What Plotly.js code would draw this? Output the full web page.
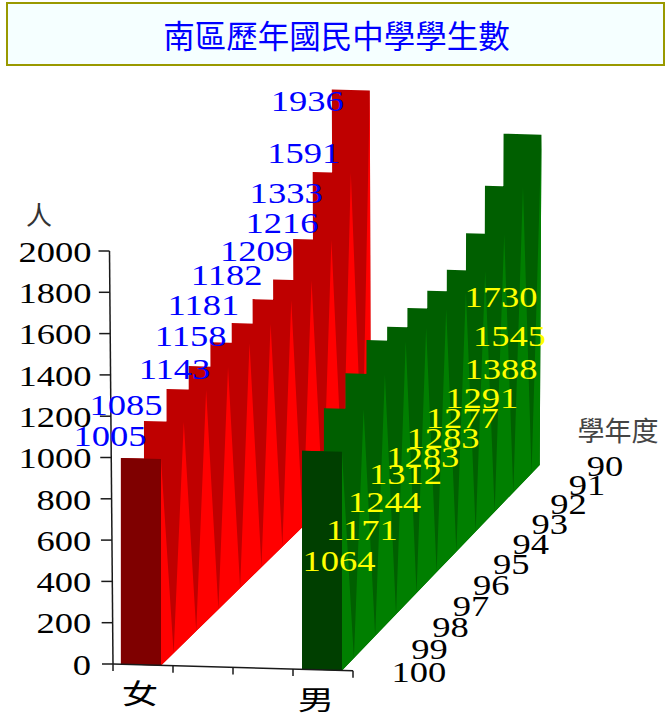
<!DOCTYPE html>
<html><head><meta charset="utf-8">
<script src="https://cdn.plot.ly/plotly-3.0.1.min.js"></script>
<style>html,body{margin:0;padding:0;background:#fff}#c{width:671px;height:716px}</style>
</head><body><div id="c"></div>
<script>
// ---- data (front row is year 100, back row is year 90) ----
const years = [100,99,98,97,96,95,94,93,92,91,90];
const female = [1005,1085,1143,1158,1181,1182,1209,1216,1333,1591,1936];
const male = [1064,1171,1244,1312,1283,1283,1277,1291,1388,1545,1730];
const valueTicks = [0,200,400,600,800,1000,1200,1400,1600,1800,2000];
const seriesNames = ['女','男'];
const chartTitle = '南區歷年國民中學學生數';
const valueAxisTitle = '人';
const depthAxisTitle = '學年度';

// ---- oblique projection of (u across, d depth, v value) to the hidden pixel-scaled axes ----
const depthT = d => d*1.1/(1+0.1*d);
function proj(u,d,v){
  const t = depthT(d);
  const lean = t*(-0.0009+0.002*u);
  return [113+240*u+(213-16*u)*t+lean*v,
          664.3+6.5*u-205.5*t-(0.2055-0.0146*t)*v];
}
const wallLean = 0.00175, wallScale = 0.2065;
const wallPt = v => [113-wallLean*v, 664-wallScale*v];

function barTraces(vals,u0,u1,cFront,cMain,cSide,name){
  const n = vals.length, X=[],Y=[],add=(p)=>{X.push(p[0]);Y.push(p[1]);};
  const gap=()=>{X.push(null);Y.push(null);};
  vals.forEach((v,k)=>{const d=k/(n-1);
    add(proj(u0,d,0));add(proj(u1,d,0));add(proj(u1,d,v));add(proj(u0,d,v));add(proj(u0,d,0));gap();});
  add(proj(u1,0,0));add(proj(u1,1,0));
  for(let k=n-1;k>=0;k--) add(proj(u1,k/(n-1),vals[k]));
  add(proj(u1,0,0));
  const X2=[],Y2=[];
  const floorD = i => i<0?0:(i>=n-1?1:(i+0.55)/(n-1));
  vals.forEach((v,k)=>{
    const a=proj(u1,floorD(k-1),0), b=proj(u1,floorD(k),0), c=proj(u1,k/(n-1),v);
    [a,b,c,a].forEach(p=>{X2.push(p[0]);Y2.push(p[1]);}); X2.push(null);Y2.push(null);
  });
  const f=[proj(u0,0,0),proj(u1,0,0),proj(u1,0,vals[0]),proj(u0,0,vals[0]),proj(u0,0,0)];
  const base={type:'scatter',mode:'lines',fill:'toself',line:{width:0},hoverinfo:'skip',showlegend:false,name};
  return [
    {...base,x:X,y:Y,fillcolor:cMain},
    {...base,x:X2,y:Y2,fillcolor:cSide},
    {...base,x:f.map(p=>p[0]),y:f.map(p=>p[1]),fillcolor:cFront}
  ];
}
const U = {f:[0.033,0.2], m:[0.7875,0.954]};
const traces = [
  ...barTraces(female,U.f[0],U.f[1],'#7f0000','#bf0000','#ff0000',seriesNames[0]),
  ...barTraces(male,U.m[0],U.m[1],'#003f00','#005f00','#007f00',seriesNames[1])
];

// ---- axes ----
const axisX=[],axisY=[];
const pushSeg=(a,b)=>{axisX.push(a[0],b[0],null);axisY.push(a[1],b[1],null);};
pushSeg(wallPt(0),wallPt(2000));
valueTicks.forEach(v=>{const p=wallPt(v);pushSeg([p[0]-11,p[1]],p);});
const xFrame=u=>[113+240*u,664+6.8*u];
pushSeg(xFrame(0),xFrame(1));
[0,0.25,0.5,0.75,1].forEach(u=>{const p=xFrame(u);pushSeg(p,[p[0],p[1]+7]);});
traces.push({type:'scatter',mode:'lines',x:axisX,y:axisY,line:{color:'#1a1a1a',width:1.5},hoverinfo:'skip',showlegend:false});

// ---- text ----
const numFont={family:'"Liberation Serif",serif',size:29};
const cjk='"Noto Sans CJK TC",sans-serif';
const numDy=2.5;
function textTrace(x,y,text,font){return {type:'scatter',mode:'text',x,y,text,textposition:'middle center',textfont:font,hoverinfo:'skip',showlegend:false};}
traces.push(textTrace(
  valueTicks.map(v=>91-9*String(v).length),
  valueTicks.map(v=>wallPt(v)[1]+1+numDy),
  valueTicks.map(String),{...numFont,color:'#000'}));
traces.push(textTrace(
  years.map(y=>proj(1,years.indexOf(y)/(years.length-1),0)[0]+(y===100?66:55)),
  years.map(y=>proj(1,years.indexOf(y)/(years.length-1),0)[1]+1+numDy),
  years.map(String),{...numFont,color:'#000'}));
const labelOffF=[[-11,-21.5],[-18,-16],[8,-20],[2,-30],[-7,-37],[-5,-48],[4,-47.5],[9,-56.5],[-7,-46],[-9,-19],[-24.5,11.5]];
const labelOffM=[[37,110.5],[38,122.5],[39,128.5],[39,134],[35.5,130.5],[35.5,130.5],[35,127.5],[35,128.5],[35,136.5],[24.5,150],[-2.5,163.5]];
const lblF=female.map((v,k)=>{const p=proj(U.f[0],k/(female.length-1),v);return [p[0]+labelOffF[k][0],p[1]+labelOffF[k][1]+numDy];});
const lblM=male.map((v,k)=>{const p=proj(U.m[0],k/(male.length-1),v);return [p[0]+labelOffM[k][0],p[1]+labelOffM[k][1]+numDy];});
traces.push(textTrace(lblF.map(p=>p[0]),lblF.map(p=>p[1]),female.map(String),{...numFont,color:'#0000ff'}));
traces.push(textTrace(lblM.map(p=>p[0]),lblM.map(p=>p[1]),male.map(String),{...numFont,color:'#ffff00'}));
traces.push(textTrace([140,316],[697,703],seriesNames,{family:cjk,size:27,color:'#000'}));
traces.push(textTrace([39],[218],[valueAxisTitle],{family:cjk,size:26,color:'#333'}));
traces.push(textTrace([618],[434],[depthAxisTitle],{family:cjk,size:27,color:'#444'}));

const layout={
  width:671,height:716,margin:{l:0,r:0,t:0,b:0},showlegend:false,
  paper_bgcolor:'#fff',plot_bgcolor:'#fff',
  title:{text:chartTitle,font:{family:cjk,size:31.5,color:'#0000ff'},x:0.5015,xanchor:'center',y:0.9485,yanchor:'middle'},
  xaxis:{range:[0,671],visible:false,fixedrange:true},
  yaxis:{range:[716,0],visible:false,fixedrange:true},
  shapes:[{type:'rect',xref:'x',yref:'y',x0:7,x1:664,y0:3,y1:65,fillcolor:'#f5ffff',line:{color:'#999900',width:2},layer:'below'}]
};
function stretch(){
  document.querySelectorAll('.textpoint text').forEach(t=>{
    const c=t.textContent;
    const s=/^\d+$/.test(c)?1.26:(/^[女男]$/.test(c)?1.35:0);
    if(s){
      const x=t.getAttribute('x');
      t.setAttribute('transform',`translate(${x},0) scale(${s},1) translate(${-x},0)`);
    }
  });
}
Plotly.newPlot('c',traces,layout,{displayModeBar:false,staticPlot:true}).then(stretch);
</script></body></html>
